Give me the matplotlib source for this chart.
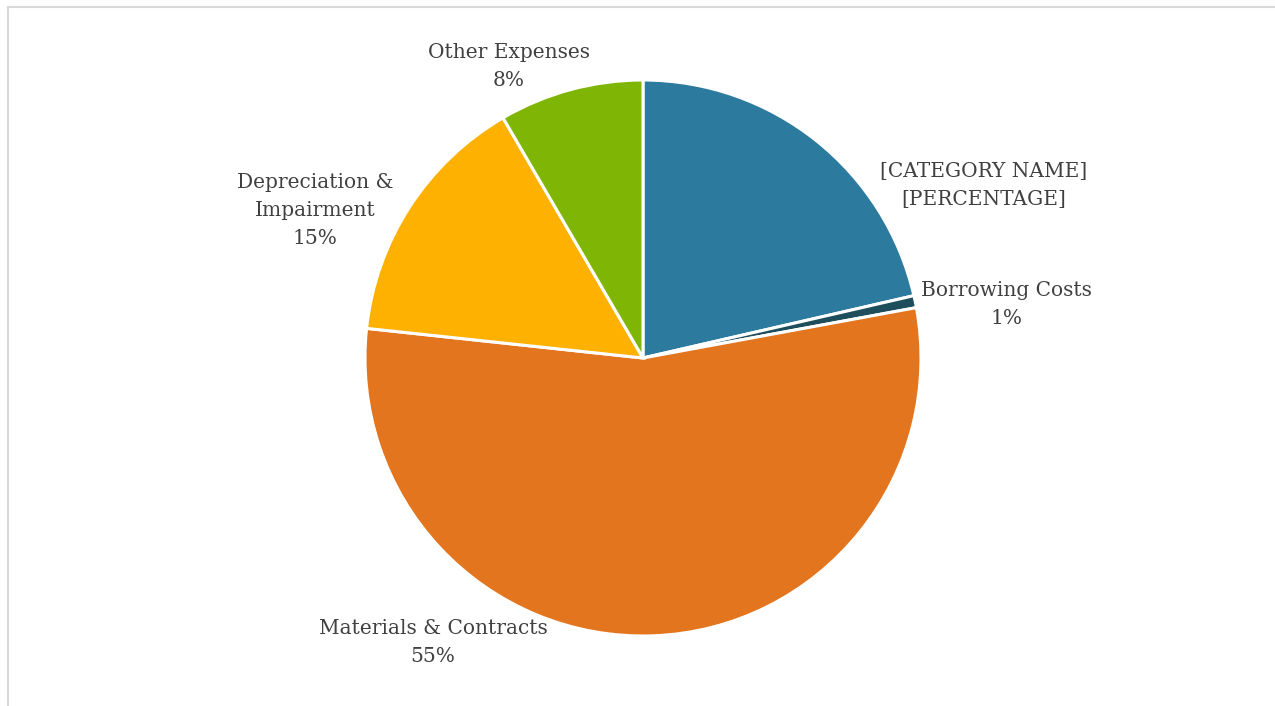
import matplotlib.pyplot as plt
from matplotlib.lines import Line2D

# expense breakdown, share of total (%)
categories = ["[CATEGORY NAME]", "Borrowing Costs", "Materials & Contracts",
              "Depreciation &\nImpairment", "Other Expenses"]
shares = [21.4, 0.7, 54.6, 14.9, 8.4]
colors = ["#2C7B9E", "#1E4D5C", "#E2751E", "#FFB102", "#7FB606"]

# label centres in pie units (radius = 1)
label_pos = [(1.227, 0.622), (1.309, 0.191), (-0.755, -1.025),
             (-1.180, 0.532), (-0.482, 1.050)]

W, H = 1275, 706
fig = plt.figure(figsize=(W / 100, H / 100), dpi=100)
cx, cy, r = 643, 358, 278
ax = fig.add_axes([(cx - r) / W, (H - cy - r) / H, 2 * r / W, 2 * r / H])

ax.pie(shares, colors=colors, startangle=90, counterclock=False, radius=1,
       wedgeprops=dict(edgecolor="white", linewidth=2.2))
ax.set_xlim(-1, 1)
ax.set_ylim(-1, 1)
ax.set_aspect("equal")
ax.axis("off")

for name, val, (x, y) in zip(categories, shares, label_pos):
    if name.startswith("["):
        txt = name + "\n[PERCENTAGE]"
    else:
        txt = f"{name}\n{round(val):d}%"
    ax.text(x, y, txt, ha="center", va="center", fontsize=14.5,
            family="DejaVu Serif", color="#404040", linespacing=1.6,
            clip_on=False)

# thin chart frame along the top and left
fig.add_artist(Line2D([7.5 / W, 1], [1 - 6.5 / H, 1 - 6.5 / H],
                      transform=fig.transFigure, color="#D9D9D9", lw=1.5))
fig.add_artist(Line2D([7.5 / W, 7.5 / W], [0, 1 - 6.5 / H],
                      transform=fig.transFigure, color="#D9D9D9", lw=1.5))

fig.savefig("out.png", dpi=100, facecolor="white")
